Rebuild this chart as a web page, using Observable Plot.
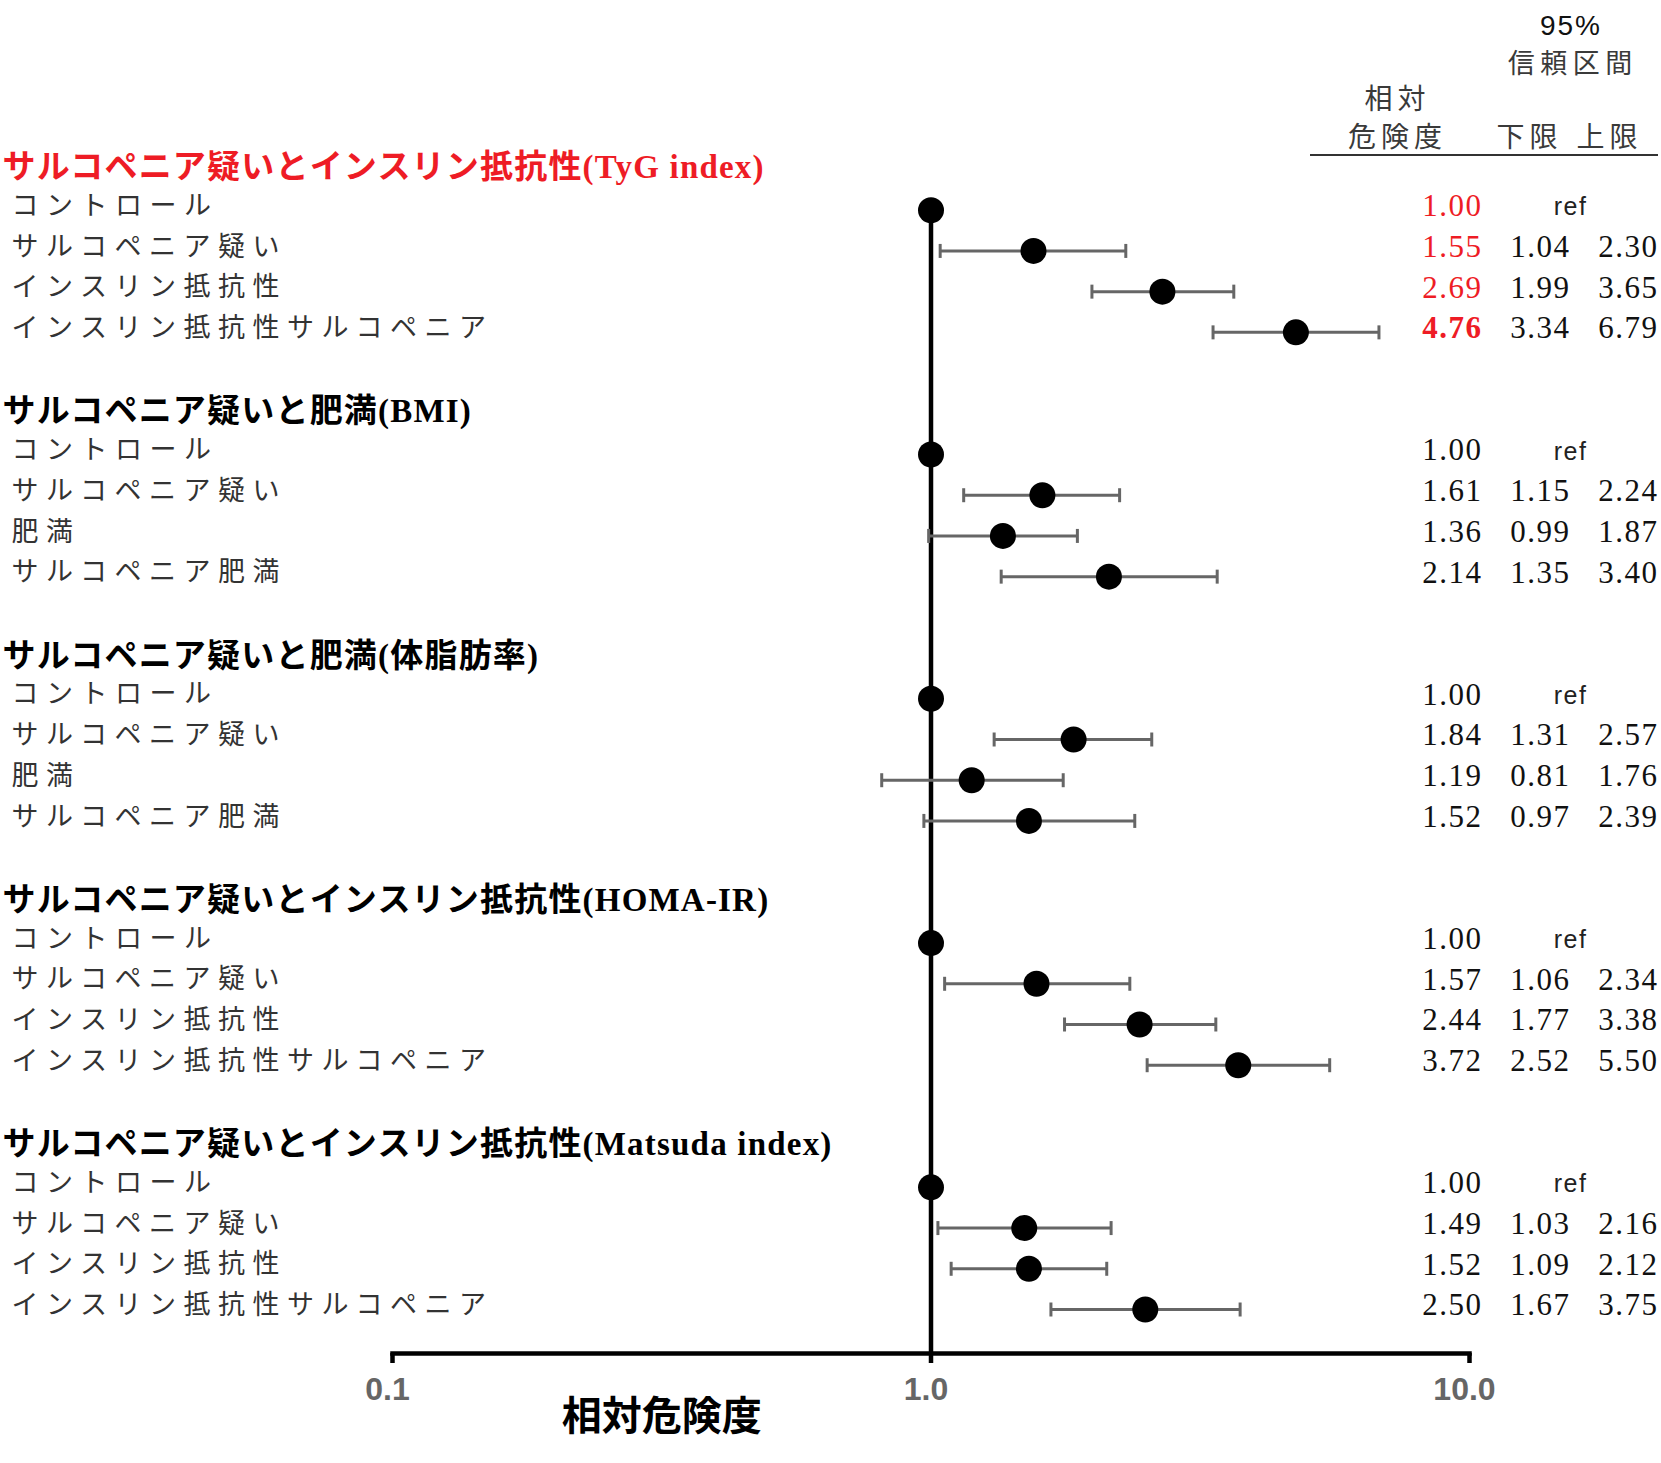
<!DOCTYPE html>
<html><head><meta charset="utf-8">
<script src="https://cdn.jsdelivr.net/npm/d3@7"></script>
<script src="https://cdn.jsdelivr.net/npm/@observablehq/plot@0.6"></script>
<style>
body{margin:0;background:#fff}
#chart{position:relative;width:1661px;height:1463px;overflow:hidden}
#chart svg{position:absolute;left:0;top:0}
.colhead{position:absolute;font-family:"Noto Sans CJK JP",sans-serif;color:#3a3a3a;white-space:nowrap;transform:translate(-50%,-50%);line-height:1}
</style>
</head><body><div id="chart"></div>
<script>
// ---- data ----
const groupTitles = [
  "サルコペニア疑いとインスリン抵抗性(TyG index)",
  "サルコペニア疑いと肥満(BMI)",
  "サルコペニア疑いと肥満(体脂肪率)",
  "サルコペニア疑いとインスリン抵抗性(HOMA-IR)",
  "サルコペニア疑いとインスリン抵抗性(Matsuda index)"
];
const categories = [
  ["コントロール", "サルコペニア疑い", "インスリン抵抗性", "インスリン抵抗性サルコペニア"],
  ["コントロール", "サルコペニア疑い", "肥満", "サルコペニア肥満"],
  ["コントロール", "サルコペニア疑い", "肥満", "サルコペニア肥満"],
  ["コントロール", "サルコペニア疑い", "インスリン抵抗性", "インスリン抵抗性サルコペニア"],
  ["コントロール", "サルコペニア疑い", "インスリン抵抗性", "インスリン抵抗性サルコペニア"]
];
const relativeRisk = [
  [1.00, 1.55, 2.69, 4.76],
  [1.00, 1.61, 1.36, 2.14],
  [1.00, 1.84, 1.19, 1.52],
  [1.00, 1.57, 2.44, 3.72],
  [1.00, 1.49, 1.52, 2.50]
];
const lowerCI = [
  [null, 1.04, 1.99, 3.34],
  [null, 1.15, 0.99, 1.35],
  [null, 1.31, 0.81, 0.97],
  [null, 1.06, 1.77, 2.52],
  [null, 1.03, 1.09, 1.67]
];
const upperCI = [
  [null, 2.30, 3.65, 6.79],
  [null, 2.24, 1.87, 3.40],
  [null, 2.57, 1.76, 2.39],
  [null, 2.34, 3.38, 5.50],
  [null, 2.16, 2.12, 3.75]
];
const refLabel = "ref";
const xTicks = [0.1, 1, 10];
const xTickLabels = ["0.1", "1.0", "10.0"];
const xAxisLabel = "相対危険度";
const colHeaders = {rr: ["相対", "危険度"], ci: ["95%", "信頼区間"], lo: "下限", hi: "上限"};

// ---- table ----
const rowsPerGroup = 6;
const rows = [];
categories.forEach((cats, g) => cats.forEach((label, i) => rows.push({
  group: g, item: i, row: g * rowsPerGroup + 1 + i, label,
  rr: relativeRisk[g][i], lo: lowerCI[g][i], hi: upperCI[g][i]
})));
const titles = groupTitles.map((t, g) => ({title: t, group: g, row: g * rowsPerGroup}));
const withCI = rows.filter(d => d.lo != null);
const refRows = rows.filter(d => d.lo == null);

const capSymbol = {
  draw(context, size) {
    const r = Math.sqrt(size / Math.PI);
    context.moveTo(0, -r);
    context.lineTo(0, r);
  }
};

const RED = "#ee1c25";
const serifCJK = "'Liberation Serif', 'Times New Roman', 'Noto Sans CJK JP', serif";

const chart = Plot.plot({
  width: 1661,
  height: 1463,
  marginLeft: 392,
  marginRight: 192,
  marginTop: 210,
  marginBottom: 110,
  x: {type: "log", domain: [0.1, 10], label: null},
  y: {domain: [0, 28], range: [169, 1309], axis: null},
  style: {background: "white"},
  marks: [
    // x axis line + ticks
    Plot.frame({anchor: "bottom", stroke: "black", strokeWidth: 4.5}),
    Plot.axisX({ticks: xTicks, tickSize: 10, tickFormat: () => "", stroke: "black", strokeWidth: 4.5, label: null}),
    Plot.axisX({ticks: xTicks, tickSize: 0, tickPadding: 24, tickFormat: (d) => xTickLabels[xTicks.indexOf(d)],
      fill: "#666", fontSize: 32, fontWeight: "bold", dx: -5,
      fontFamily: "'Liberation Sans Narrow', 'Arial Narrow', 'Liberation Sans', sans-serif",
      label: null}),
    Plot.text([xAxisLabel], {x: () => Math.sqrt(xTicks[0] * xTicks[1]), frameAnchor: "bottom", dy: 76,
      fontSize: 40, fontWeight: "bold", fontFamily: "'Noto Sans CJK JP', sans-serif", fill: "black"}),
    // reference line at RR = 1
    Plot.ruleX([1], {stroke: "black", strokeWidth: 4.5}),
    // CI bars
    Plot.ruleY(withCI, {y: "row", x1: "lo", x2: "hi", stroke: "#666", strokeWidth: 3}),
    Plot.dot(withCI, {x: "lo", y: "row", r: 7, symbol: capSymbol, fill: "none", stroke: "#666", strokeWidth: 3}),
    Plot.dot(withCI, {x: "hi", y: "row", r: 7, symbol: capSymbol, fill: "none", stroke: "#666", strokeWidth: 3}),
    // point estimates
    Plot.dot(rows, {x: "rr", y: "row", r: 13, fill: "black", stroke: "none"}),
    // group titles
    Plot.text(titles, {y: "row", text: "title", frameAnchor: "left", textAnchor: "start", dx: -390, dy: -2,
      fontSize: 33, fontWeight: "bold", fontFamily: serifCJK,
      fill: (d) => d.group === 0 ? RED : "black"}),
    // row labels
    Plot.text(rows, {y: "row", text: "label", frameAnchor: "left", textAnchor: "start", dx: -381, dy: -4,
      fontSize: 27, fontFamily: "'Noto Sans CJK JP', sans-serif", fill: "#333"}),
    // value columns
    Plot.text(rows.filter(d => !(d.group === 0 && d.item === 3)), {y: "row", text: (d) => d.rr.toFixed(2), frameAnchor: "right",
      textAnchor: "end", dx: 13, dy: -4, fontSize: 31, fontFamily: serifCJK,
      fill: (d) => d.group === 0 ? RED : "#111"}),
    Plot.text(rows.filter(d => d.group === 0 && d.item === 3), {y: "row", text: (d) => d.rr.toFixed(2), frameAnchor: "right",
      textAnchor: "end", dx: 13, dy: -4, fontSize: 31, fontWeight: "bold", fontFamily: serifCJK, fill: RED}),
    Plot.text(withCI, {y: "row", text: (d) => d.lo.toFixed(2), frameAnchor: "right",
      textAnchor: "end", dx: 101, dy: -4, fontSize: 31, fontFamily: serifCJK, fill: "#111"}),
    Plot.text(withCI, {y: "row", text: (d) => d.hi.toFixed(2), frameAnchor: "right",
      textAnchor: "end", dx: 189, dy: -4, fontSize: 31, fontFamily: serifCJK, fill: "#111"}),
    Plot.text(refRows, {y: "row", text: () => refLabel, frameAnchor: "right",
      textAnchor: "middle", dx: 101, dy: -3, fontSize: 25, fontFamily: "'Liberation Sans', Arial, sans-serif", fill: "#222"})
  ]
});
const root = document.getElementById("chart");
root.appendChild(chart);

// letter spacing per text group (the reference text is horizontally stretched)
const spacing = {"27": "7.5px", "33": "1.2px", "31": "1.5px", "25": "1.5px"};
chart.querySelectorAll("g[font-size]").forEach(g => {
  const s = spacing[g.getAttribute("font-size")];
  if (s) g.querySelectorAll("text").forEach(t => t.style.letterSpacing = s);
});

// column headers (table heading above the value columns)
function addHead(text, x, y, size, ls, extra) {
  const el = document.createElement("div");
  el.className = "colhead";
  el.textContent = text;
  el.style.left = x + "px";
  el.style.top = y + "px";
  el.style.fontSize = size + "px";
  el.style.letterSpacing = ls + "px";
  el.style.paddingLeft = ls + "px";
  Object.assign(el.style, extra || {});
  root.appendChild(el);
}
addHead(colHeaders.ci[0], 1570, 26, 28, 2, {fontFamily: "'Liberation Sans', Arial, sans-serif", color: "#111"});
addHead(colHeaders.ci[1], 1570, 61, 27, 5.5);
addHead(colHeaders.rr[0], 1395, 97, 28, 5);
addHead(colHeaders.rr[1], 1395, 135, 28, 5);
addHead(colHeaders.lo, 1527, 135, 28, 5);
addHead(colHeaders.hi, 1607, 135, 28, 5);
const line = document.createElement("div");
Object.assign(line.style, {position: "absolute", left: "1310px", top: "154px", width: "348px", height: "0", borderTop: "2px solid #333"});
root.appendChild(line);
</script>
</body></html>
